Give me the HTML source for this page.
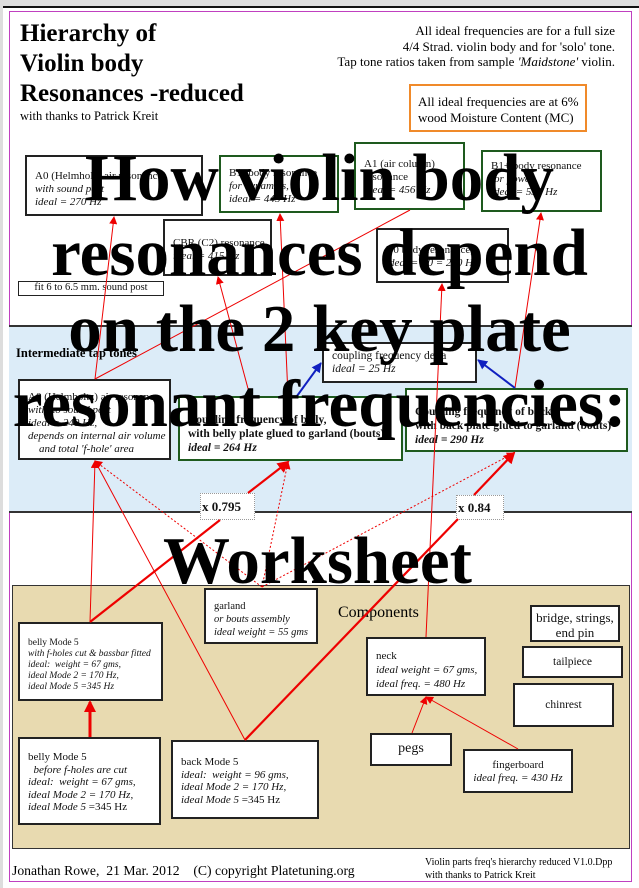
<!DOCTYPE html>
<html><head><meta charset="utf-8"><style>
body{margin:0;width:639px;height:888px;position:relative;background:#fff;font-family:"Liberation Serif",serif;overflow:hidden}
.a{position:absolute;box-sizing:border-box}
.b{position:absolute;box-sizing:border-box;background:#fff;border:2px solid #222;font-size:10.5px;line-height:13px;padding:6px 8px;color:#111;white-space:nowrap}
.g{border-color:#1e5a1e}
i{font-style:italic}
.big{position:absolute;left:0;width:639px;text-align:center;font-weight:bold;font-size:67px;line-height:67px;color:#000;white-space:nowrap;letter-spacing:0}
</style></head><body>
<div class="a" style="left:0;top:0;width:639px;height:888px;background:#ddd"></div>
<div class="a" style="left:3px;top:6px;width:636px;height:882px;background:#fff;border-top:2px solid #111"></div>
<div class="a" style="left:9px;top:11px;width:623px;height:871px;border:1.5px solid #c040c0"></div>
<div class="a" style="left:20px;top:19px;font-size:25px;font-weight:bold;line-height:30px;white-space:nowrap">Hierarchy of<br>Violin body<br>Resonances -reduced</div>
<div class="a" style="left:20px;top:109px;font-size:12.5px">with thanks to Patrick Kreit</div>
<div class="a" style="right:24px;top:23px;font-size:13px;line-height:15.5px;text-align:right;white-space:nowrap">All ideal frequencies are for a full size<br>4/4 Strad. violin body and for 'solo' tone.<br>Tap tone ratios taken from sample <i>'Maidstone'</i> violin.</div>
<div class="a" style="left:409px;top:84px;width:178px;height:48px;border:2px solid #f08a2a;font-size:13px;line-height:16px;padding:8px 7px;white-space:nowrap">All ideal frequencies are at 6%<br>wood Moisture Content (MC)</div>

<div class="a" style="left:9px;top:325px;width:623px;height:188px;background:#dcecf8;border-top:2px solid #333;border-bottom:2px solid #333"></div>
<div class="a" style="left:16px;top:346px;font-size:12.5px;font-weight:bold">Intermediate tap tones</div>
<div class="a" style="left:12px;top:585px;width:618px;height:264px;background:#e8dab0;border:1.5px solid #333"></div>
<div class="a" style="left:338px;top:604px;font-size:16px">Components</div>

<div class="b" style="left:25px;top:155px;width:178px;height:61px;padding-top:13px;font-size:11px">A0 (Helmholtz air resonance<br><i>with sound post<br>ideal = 270 Hz</i></div>
<div class="b g" style="left:219px;top:155px;width:120px;height:58px;padding-top:10px;font-size:11px">B1- body resonance<br><i>for dynamics,<br>ideal = 445 Hz</i></div>
<div class="b g" style="left:354px;top:142px;width:111px;height:68px;padding-top:14px;font-size:11px">A1 (air column)<br>resonance<br><i>ideal = 456 Hz</i></div>
<div class="b g" style="left:481px;top:150px;width:121px;height:62px;padding-top:8px;font-size:11px">B1+ body resonance<br><i>for power,<br>ideal = 530 Hz</i></div>
<div class="b" style="left:163px;top:219px;width:109px;height:57px;padding-top:16px;font-size:11px">CBR (C2) resonance<br><i>ideal = 415 Hz</i></div>
<div class="b" style="left:376px;top:228px;width:133px;height:55px;padding-top:14px;font-size:11px">B0 body resonance,<br><i>ideal = A0 = 270 Hz</i></div>
<div class="b" style="left:18px;top:281px;width:146px;height:15px;padding:0;text-align:center;line-height:12px;border-width:1px">fit 6 to 6.5 mm. sound post</div>

<div class="b" style="left:18px;top:379px;width:153px;height:81px;padding-top:10px;font-size:11px">A0 (Helmholtz) air resonance<br><i>with no sound post<br>ideal = 240 Hz,<br>depends on internal air volume<br>&nbsp;&nbsp;&nbsp;&nbsp;and total 'f-hole' area</i></div>
<div class="b g" style="left:178px;top:396px;width:225px;height:65px;border-width:2.5px;font-weight:bold;padding-top:15px;font-size:11.5px;line-height:14px">Coupling frequency of belly,<br>with belly plate glued to garland (bouts)<br><i>ideal = 264 Hz</i></div>
<div class="b" style="left:322px;top:342px;width:155px;height:41px;padding-top:6px;font-size:11.5px">coupling frequency delta<br><i>ideal = 25 Hz</i></div>
<div class="b g" style="left:405px;top:388px;width:223px;height:64px;border-width:2.5px;font-weight:bold;padding-top:15px;font-size:11.5px;line-height:14px">Coupling frequency of back,<br>with back plate glued to garland (bouts)<br><i>ideal = 290 Hz</i></div>
<div class="b" style="left:200px;top:493px;width:55px;height:27px;border:1px dotted #999;font-weight:bold;font-size:13px;padding:6px 0 0 1px">x 0.795</div>
<div class="b" style="left:456px;top:495px;width:48px;height:25px;border:1px dotted #999;font-weight:bold;font-size:13px;padding:5px 0 0 1px">x 0.84</div>

<div class="b" style="left:204px;top:588px;width:114px;height:56px;padding-top:10px">garland<br><i>or bouts assembly<br>ideal weight = 55 gms</i></div>
<div class="b" style="left:530px;top:605px;width:90px;height:37px;font-size:13px;text-align:center;padding:3px 0;line-height:15px">bridge, strings,<br>end pin</div>
<div class="b" style="left:522px;top:646px;width:101px;height:32px;text-align:center;padding-top:8px;font-size:11.5px">tailpiece</div>
<div class="b" style="left:513px;top:683px;width:101px;height:44px;text-align:center;padding-top:14px;font-size:11.5px">chinrest</div>
<div class="b" style="left:366px;top:637px;width:120px;height:59px;padding-top:10px;font-size:11px;line-height:14px">neck<br><i>ideal weight = 67 gms,<br>ideal freq. = 480 Hz</i></div>
<div class="b" style="left:18px;top:622px;width:145px;height:79px;padding-top:14px;font-size:9.5px;line-height:11px">belly Mode 5<br><i>with f-holes cut &amp; bassbar fitted<br>ideal:&nbsp; weight = 67 gms,<br>ideal Mode 2 = 170 Hz,<br>ideal Mode 5 =345 Hz</i></div>
<div class="b" style="left:18px;top:737px;width:143px;height:88px;padding-top:12px;line-height:12.5px;font-size:11px">belly Mode 5<br><i>&nbsp;&nbsp;before f-holes are cut<br>ideal:&nbsp; weight = 67 gms,<br>ideal Mode 2 = 170 Hz,</i><br><i>ideal Mode 5</i> =345 Hz</div>
<div class="b" style="left:171px;top:740px;width:148px;height:79px;padding-top:14px;line-height:12.5px;font-size:11px">back Mode 5<br><i>ideal:&nbsp; weight = 96 gms,<br>ideal Mode 2 = 170 Hz,<br>ideal Mode 5</i> =345 Hz</div>
<div class="b" style="left:370px;top:733px;width:82px;height:33px;text-align:center;padding-top:7px;font-size:14px">pegs</div>
<div class="b" style="left:463px;top:749px;width:110px;height:44px;text-align:center;padding-top:8px;font-size:11px">fingerboard<br><i>ideal freq. = 430 Hz</i></div>

<div class="a" style="left:12px;top:863px;font-size:13.7px;white-space:nowrap">Jonathan Rowe,&nbsp; 21 Mar. 2012&nbsp;&nbsp;&nbsp; (C) copyright Platetuning.org</div>
<div class="a" style="left:425px;top:856px;font-size:10px;line-height:13px;white-space:nowrap">Violin parts freq's hierarchy reduced V1.0.Dpp<br>with thanks to Patrick Kreit</div>

<svg class="a" style="left:0;top:0" width="639" height="888" viewBox="0 0 639 888">
<defs>
<marker id="r" markerWidth="8" markerHeight="8" refX="7" refY="4" orient="auto" markerUnits="userSpaceOnUse"><path d="M0,0 L8,4 L0,8z" fill="#e00"/></marker>
<marker id="R" markerWidth="12" markerHeight="12" refX="10" refY="6" orient="auto" markerUnits="userSpaceOnUse"><path d="M0,0 L12,6 L0,12z" fill="#e00"/></marker>
<marker id="u" markerWidth="10" markerHeight="10" refX="9" refY="5" orient="auto" markerUnits="userSpaceOnUse"><path d="M0,0 L10,5 L0,10z" fill="#1020c0"/></marker>
</defs>
<g stroke="#e00" stroke-width="1" fill="none">
<line x1="95" y1="379" x2="114" y2="217" marker-end="url(#r)"/>
<line x1="95" y1="379" x2="410" y2="210"/>
<line x1="288" y1="396" x2="280" y2="214" marker-end="url(#r)"/>
<line x1="250" y1="396" x2="218" y2="277" marker-end="url(#r)"/>
<line x1="515" y1="388" x2="541" y2="213" marker-end="url(#r)"/>
<line x1="426" y1="637" x2="442" y2="284" marker-end="url(#r)"/>
<line x1="90" y1="622" x2="95" y2="461" marker-end="url(#r)"/>
<line x1="245" y1="740" x2="95" y2="461"/>
<line x1="412" y1="733" x2="426" y2="697" marker-end="url(#r)"/>
<line x1="518" y1="749" x2="426" y2="697" marker-end="url(#r)"/>
<g stroke-dasharray="2,2">
<line x1="262" y1="587" x2="95" y2="461" marker-end="url(#r)"/>
<line x1="262" y1="587" x2="288" y2="462" marker-end="url(#r)"/>
<line x1="262" y1="587" x2="514" y2="453" marker-end="url(#r)"/>
</g>
</g>
<g stroke="#e00" stroke-width="2.2" fill="none">
<polyline points="90,622 220,520"/>
<line x1="248" y1="493" x2="288" y2="462" marker-end="url(#R)"/>
<polyline points="245,740 458,519"/>
<line x1="474" y1="495" x2="514" y2="453" marker-end="url(#R)"/>
<line x1="90" y1="737" x2="90" y2="702" stroke-width="3" marker-end="url(#R)"/>
</g>
<g stroke="#1020c0" stroke-width="2" fill="none">
<line x1="297" y1="396" x2="321" y2="363" marker-end="url(#u)"/>
<line x1="515" y1="388" x2="478" y2="360" marker-end="url(#u)"/>
</g>
</svg>

<div class="big" style="top:145px">How violin body</div>
<div class="big" style="top:220px">resonances depend</div>
<div class="big" style="top:296px">on the 2 key plate</div>
<div class="big" style="top:371px">resonant frequencies:</div>
<div class="big" style="top:528px;left:-2px">Worksheet</div>
</body></html>
